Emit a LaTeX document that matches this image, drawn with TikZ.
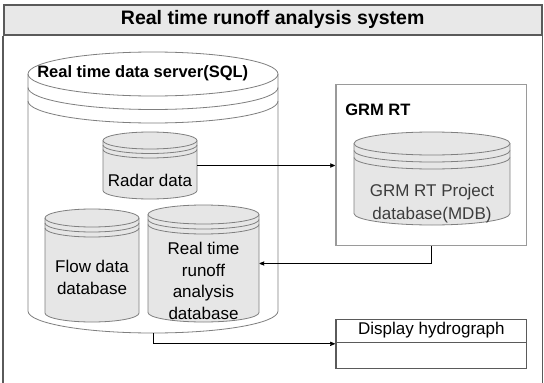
\documentclass[tikz,border=0pt]{standalone}
\usepackage{fontspec}
\setmainfont{Liberation Sans}
\usetikzlibrary{arrows,positioning,calc}
\definecolor{framegray}{HTML}{5A5A5A}
\definecolor{titlefill}{HTML}{E8E8E8}
\definecolor{cylline}{HTML}{7F7F7F}
\definecolor{cylfill}{HTML}{E6E6E6}
\definecolor{boxgray}{HTML}{9A9A9A}
\definecolor{dbtext}{HTML}{3C3C3C}
% data store drawn over an empty node: #1 node, #2 radius, #3 gap, #4 fill
\newcommand{\dbstore}[4]{%
  \path[dbline,fill=#4] let \p1=(#1.north west), \p2=(#1.south east), \n1={(\x2-\x1)/2} in
    (\x1,\y1-#2pt) arc[start angle=180,end angle=0,x radius=\n1,y radius=#2pt]
    -- (\x2,\y2+#2pt) arc[start angle=0,end angle=-180,x radius=\n1,y radius=#2pt] -- cycle;
  \path[dbline] let \p1=(#1.north west), \p2=(#1.south east), \n1={(\x2-\x1)/2} in
    (\x1,\y1-#2pt) arc[start angle=180,end angle=360,x radius=\n1,y radius=#2pt]
    (\x1,\y1-#2pt-#3pt) arc[start angle=180,end angle=360,x radius=\n1,y radius=#2pt]
    (\x1,\y1-#2pt-2*#3pt) arc[start angle=180,end angle=360,x radius=\n1,y radius=#2pt];
}

\begin{document}
\begin{tikzpicture}[x=1pt,y=-1pt,>=stealth',semithick,
    dbline/.style={draw=cylline,line width=0.8pt},
    dbnode/.style={inner sep=0pt,outer sep=0pt},
    txt/.style={font=\fontsize{17}{21.5}\selectfont,align=center,inner sep=0pt},
    hdr/.style={font=\fontsize{16.5}{20}\selectfont\bfseries,inner sep=0pt},
    conn/.style={->,black,line width=0.8pt,shorten >=0.5pt}]
  \clip (0,0) rectangle (544,383);
  % frame and title
  \node[draw=framegray,fill=titlefill,line width=1.6pt,minimum width=538pt,minimum height=30pt,
    font=\fontsize{19.5}{22}\selectfont\bfseries] (title) at (272.7,19.7) {Real time runoff analysis system};
  \draw[framegray,line width=1.6pt] (title.south west) -- ++(0,400) (title.south east) -- ++(0,400);

  % SQL server
  \node[dbnode,minimum width=250pt,minimum height=281pt] (sql) at (153,192.5) {};
  \dbstore{sql}{22}{13.5}{white}
  \node[hdr,anchor=west] (sqltxt) at (37,73) {Real time data server(SQL)};

  \node[dbnode,minimum width=94pt,minimum height=67pt] (radar) at (150,165.5) {};
  \dbstore{radar}{8.5}{4.5}{cylfill}
  \node[txt] (radartxt) at (150,180) {Radar data};

  \node[dbnode,minimum width=94pt,minimum height=113pt] (flow) at (92,265.5) {};
  \dbstore{flow}{9}{5}{cylfill}
  \node[txt] (flowtxt) at (92,277.5) {Flow data\\database};

  \node[dbnode,minimum width=111pt,minimum height=117pt] (rt) at (203.5,263.5) {};
  \dbstore{rt}{9.5}{5}{cylfill}
  \node[txt] (rttxt) at (203.5,281) {Real time\\runoff\\analysis\\database};

  % GRM RT
  \node[draw=boxgray,line width=1.2pt,minimum width=190.7pt,minimum height=161.4pt] (grm) at (431.35,165) {};
  \node[hdr,anchor=west] (grmtxt) at (345,110) {GRM RT};
  \node[dbnode,minimum width=156pt,minimum height=93pt] (grmdb) at (432,178.5) {};
  \dbstore{grmdb}{11.5}{7}{cylfill}
  \node[txt,text=dbtext,font=\fontsize{17}{23}\selectfont] (grmdbtxt) at (432,203.3) {GRM RT Project\\database(MDB)};

  % display
  \node[draw=framegray,line width=1.2pt,minimum width=190.7pt,minimum height=49pt] (disp) at (431.35,343.8) {};
  \draw[framegray,line width=1.2pt] ([yshift=1pt]disp.west) -- ([yshift=1pt]disp.east);
  \node[txt] (disptxt) at (431.35,330.5) {Display hydrograph};

  % connections
  \draw[conn] (radar.east) -- (radar.east -| grm.west);
  \draw[conn] (grm.south) |- (rt.east);
  \draw[conn] (sql.south) |- (disp.west);
\end{tikzpicture}
\end{document}
